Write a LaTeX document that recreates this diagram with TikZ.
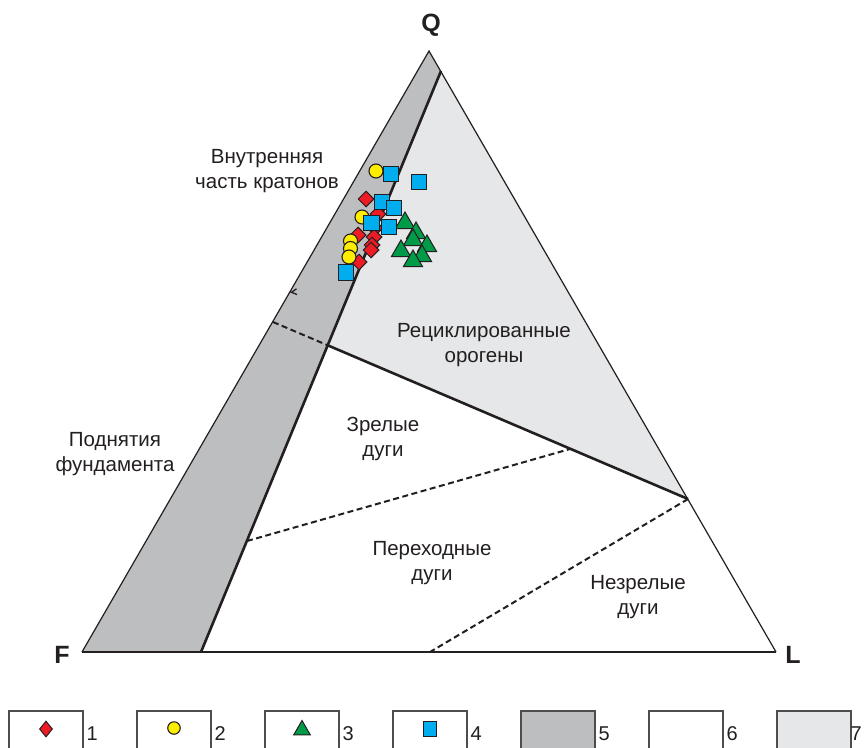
\documentclass[tikz,border=0pt]{standalone}
\usepackage{fontspec}
\setmainfont{Liberation Sans}
\usetikzlibrary{shapes.geometric}
\definecolor{bandgray}{RGB}{189,190,192}
\definecolor{orogray}{RGB}{230,231,232}
\definecolor{ink}{RGB}{35,31,32}
\definecolor{cred}{RGB}{237,28,36}
\definecolor{cyel}{RGB}{255,237,0}
\definecolor{cgrn}{RGB}{0,155,72}
\definecolor{cblu}{RGB}{0,174,239}
\begin{document}
\begin{tikzpicture}[x=1pt,y=-1pt,
  lbl/.style={font=\fontsize{20.5}{24.5}\selectfont, align=center, text=ink, inner sep=0},
  vtx/.style={font=\fontsize{25}{26}\selectfont\bfseries, text=ink, inner sep=0},
  num/.style={font=\fontsize{20}{22}\selectfont, text=ink, anchor=west, inner sep=0},
  sdia/.style={diamond, draw=ink, fill=cred, line width=1pt, inner sep=0, minimum width=16, minimum height=16},
  scir/.style={circle, draw=ink, fill=cyel, line width=1.1pt, inner sep=0, minimum size=14},
  stri/.style={regular polygon, regular polygon sides=3, draw=ink, fill=cgrn, line width=1pt, inner sep=0, minimum size=22},
  ssq/.style={rectangle, draw=ink, fill=cblu, line width=1.3pt, inner sep=0, minimum size=15.5},
  thin/.style={draw=ink, line width=1.2pt},
  thick/.style={draw=ink, line width=2.6pt},
  dashline/.style={draw=ink, line width=2pt, dash pattern=on 6pt off 3.5pt},
  legbox/.style={draw=ink!80, line width=1.1pt}
]
\useasboundingbox (0,0) rectangle (864,747);

% key points
\coordinate (F) at (82,652);
\coordinate (Q) at (429,51);
\coordinate (L) at (776,652);
\coordinate (B1) at (441,71);
\coordinate (B2) at (201,652);
\coordinate (R1) at (327,345);
\coordinate (R2) at (688,499);
\coordinate (D1a) at (273,322);
\coordinate (D2a) at (247,541);
\coordinate (D2b) at (570,449);
\coordinate (D3b) at (430,652);

% fills
\fill[bandgray] (F) -- (Q) -- (B1) -- (B2) -- cycle;
\fill[orogray] (B1) -- (R2) -- (R1) -- cycle;

% outer triangle
\draw[thin, line join=miter] (F) -- (Q) -- (L);
\draw[draw=ink, line width=2pt] (F) -- (L);

% boundaries
\draw[thick] (B1) -- (B2);
\draw[thick] (R1) -- (R2);
\draw[dashline] (D1a) -- (R1);
\draw[dashline] (D2a) -- (D2b);
\draw[dashline] (R2) -- (D3b);

% small chevron
\draw[draw=ink, line width=1.3pt] (296.5,288.8) -- (291.5,292.3) -- (297,294.5);

% vertex labels
\node[vtx] (lQ) at (431,25) {Q};
\node[vtx] (lF) at (62,655) {F};
\node[vtx] (lL) at (793,655) {L};

% field labels
\node[lbl] (t1) at (267,171) {Внутренняя\\часть кратонов};
\node[lbl] (t2) at (484,345) {Рециклированные\\орогены};
\node[lbl] (t3) at (115,454) {Поднятия\\фундамента};
\node[lbl] (t4) at (383,439) {Зрелые\\дуги};
\node[lbl] (t5) at (432,563) {Переходные\\дуги};
\node[lbl] (t6) at (638,597) {Незрелые\\дуги};

% data: red diamonds
\node[sdia] (r1) at (366,199) {};
\node[sdia] (r2) at (378,214) {};
\node[sdia] (r3) at (375,228) {};
\node[sdia] (r4) at (358,235) {};
\node[sdia] (r5) at (374,237) {};
\node[sdia] (r6) at (372,245) {};
\node[sdia] (r7) at (371,250) {};
\node[sdia] (r8) at (359,262) {};
% yellow circles
\node[scir] (y1) at (376,171) {};
\node[scir] (y2) at (362,217) {};
\node[scir] (y3) at (350.5,241) {};
\node[scir] (y4) at (350.5,248.5) {};
\node[scir] (y5) at (349,257) {};
% green triangles
\node[stri] (g1) at (405,223) {};
\node[stri] (g2) at (416,233) {};
\node[stri] (g3) at (413,240) {};
\node[stri] (g4) at (427,246) {};
\node[stri] (g5) at (401,251) {};
\node[stri] (g6) at (422,256) {};
\node[stri] (g7) at (413,261) {};
% blue squares
\node[ssq] (b1) at (391,174) {};
\node[ssq] (b2) at (419,182) {};
\node[ssq] (b3) at (382,202) {};
\node[ssq] (b4) at (394,208) {};
\node[ssq] (b5) at (371.5,223) {};
\node[ssq] (b6) at (389,227) {};
\node[ssq] (b7) at (346,272.5) {};

% legend
\foreach \i/\fc in {0/white,1/white,2/white,3/white,4/bandgray,5/white,6/orogray}{
  \fill[\fc] (9+128*\i,711) rectangle (83+128*\i,748);
  \draw[legbox] (9+128*\i,748) -- (9+128*\i,711) -- (83+128*\i,711) -- (83+128*\i,748);
}
\foreach \i in {0,...,5}{
  \pgfmathtruncatemacro{\n}{\i+1}
  \node[num] (n\n) at (86.5+128*\i,734) {\n};
}
\node[num] (n7) at (850.5,734) {7};
\node[sdia, minimum width=13, minimum height=16] (k1) at (46,729) {};
\node[scir, minimum size=12.5] (k2) at (174,728) {};
\node[stri, minimum size=19] (k3) at (302,730) {};
\node[ssq, minimum width=13, minimum height=15] (k4) at (430,729) {};
\end{tikzpicture}
\end{document}
